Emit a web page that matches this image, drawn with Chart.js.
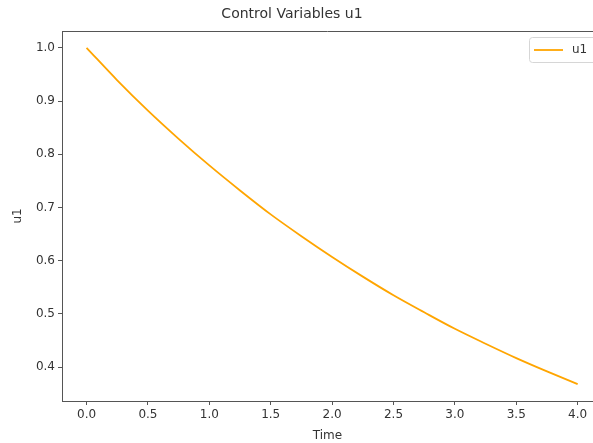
<!DOCTYPE html>
<html>
<head>
<meta charset="utf-8">
<script src="https://cdn.jsdelivr.net/npm/chart.js@4/dist/chart.umd.min.js"></script>
<style>
  html, body { margin: 0; padding: 0; background: #fff; overflow: hidden; }
  #wrap { position: relative; width: 593px; height: 443px; }
</style>
</head>
<body>
<div id="wrap"><canvas id="chart" width="593" height="443"></canvas></div>
<script>
'use strict';

// values
const TIME   = [0, 0.25, 0.5, 0.75, 1, 1.25, 1.5, 1.75, 2, 2.25, 2.5, 2.75, 3, 3.25, 3.5, 3.75, 4];
const U1     = [1.000, 0.939, 0.882, 0.829, 0.779, 0.732, 0.687, 0.646, 0.607, 0.570, 0.535, 0.503, 0.472, 0.444, 0.417, 0.392, 0.368];
const X_TICKS = [0, 0.5, 1, 1.5, 2, 2.5, 3, 3.5, 4];
const Y_TICKS = [0.4, 0.5, 0.6, 0.7, 0.8, 0.9, 1.0];

const FONT    = 'DejaVu Sans';
const TEXT    = '#333';
const SPINE   = '#555';
const ORANGE  = '#ffa500';

// title, top spine and legend box, drawn like matplotlib does
const frame = {
  id: 'frame',
  afterDraw(chart) {
    const { ctx, chartArea: a } = chart;
    ctx.save();
    ctx.strokeStyle = SPINE;
    ctx.lineWidth = 1;
    ctx.beginPath();
    ctx.moveTo(a.left, a.top + 0.5);
    ctx.lineTo(a.right, a.top + 0.5);
    ctx.stroke();

    ctx.fillStyle = TEXT;
    ctx.font = `14px "${FONT}"`;
    ctx.textAlign = 'center';
    ctx.textBaseline = 'middle';
    ctx.fillText('Control Variables u1', 292, 14);

    // legend
    ctx.strokeStyle = '#d6d6d6';
    ctx.fillStyle = 'rgba(255,255,255,0.8)';
    ctx.beginPath();
    ctx.roundRect(529.5, 37.5, 72, 25, 3);
    ctx.fill();
    ctx.stroke();
    ctx.strokeStyle = ORANGE;
    ctx.lineWidth = 1.8;
    ctx.beginPath();
    ctx.moveTo(534, 50);
    ctx.lineTo(563, 50);
    ctx.stroke();
    ctx.fillStyle = TEXT;
    ctx.font = `12px "${FONT}"`;
    ctx.textAlign = 'left';
    ctx.fillText('u1', 572, 50);
    ctx.restore();
  },
};

const tickOpts = { color: TEXT, font: { family: FONT, size: 12 }, padding: 3 };

new Chart(document.getElementById('chart'), {
  type: 'line',
  data: {
    datasets: [{
      label: 'u1',
      data: TIME.map((t, i) => ({ x: t, y: U1[i] })),
      borderColor: ORANGE,
      borderWidth: 1.8,
      pointRadius: 0,
      cubicInterpolationMode: 'monotone',
      fill: false,
    }],
  },
  options: {
    responsive: false,
    animation: false,
    layout: { padding: { top: 31, right: 0, left: 0, bottom: 0 } },
    plugins: { legend: { display: false }, title: { display: false }, tooltip: { enabled: false } },
    scales: {
      x: {
        type: 'linear',
        min: -0.2,
        max: 4.125,
        afterBuildTicks: s => { s.ticks = X_TICKS.map(v => ({ value: v })); },
        afterFit: s => { s.height = 42; },
        ticks: { ...tickOpts, callback: v => v.toFixed(1), maxRotation: 0, autoSkip: false },
        grid: { drawOnChartArea: false, tickLength: 4, tickColor: SPINE },
        border: { color: SPINE, width: 1 },
        title: { display: true, text: 'Time', color: TEXT, font: { family: FONT, size: 12 }, padding: { top: 1, bottom: 0 } },
      },
      y: {
        min: 0.3363,
        max: 1.0316,
        afterBuildTicks: s => { s.ticks = Y_TICKS.map(v => ({ value: v })); },
        afterFit: s => { s.width = 62; },
        ticks: { ...tickOpts, callback: v => v.toFixed(1), autoSkip: false },
        grid: { drawOnChartArea: false, tickLength: 4, tickColor: SPINE },
        border: { color: SPINE, width: 1 },
        title: { display: true, text: 'u1', color: TEXT, font: { family: FONT, size: 12 }, padding: { top: 11, bottom: 4 } },
      },
    },
  },
  plugins: [frame],
});
</script>
</body>
</html>
